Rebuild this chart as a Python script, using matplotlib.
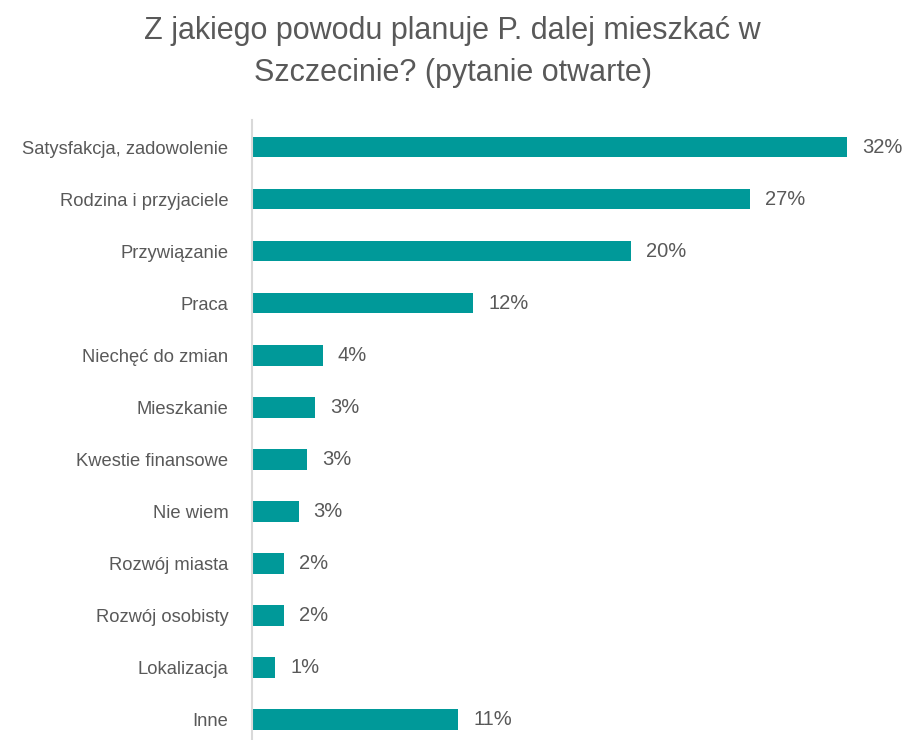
import matplotlib.pyplot as plt
from matplotlib import font_manager

# dane z wykresu
categories = ["Satysfakcja, zadowolenie", "Rodzina i przyjaciele", "Przywiązanie", "Praca",
              "Niechęć do zmian", "Mieszkanie", "Kwestie finansowe", "Nie wiem",
              "Rozwój miasta", "Rozwój osobisty", "Lokalizacja", "Inne"]
values = [32.0, 26.8, 20.4, 11.9, 3.8, 3.4, 2.95, 2.5, 1.7, 1.7, 1.25, 11.1]
value_labels = ["32%", "27%", "20%", "12%", "4%", "3%", "3%", "3%", "2%", "2%", "1%", "11%"]

installed = {f.name for f in font_manager.fontManager.ttflist}
fam = "Liberation Sans Narrow" if "Liberation Sans Narrow" in installed else "Liberation Sans"
narrow = fam == "Liberation Sans Narrow"
plt.rcParams['font.family'] = [fam, 'DejaVu Sans']

txt = "#595959"
bar_col = "#009999"

fig = plt.figure(figsize=(9.05, 7.4), dpi=100)
ax = fig.add_axes([252 / 905, 0, 0.70, 620 / 740])

y = list(range(len(categories)))
ax.barh(y, values, height=0.4, color=bar_col)
for yi, v, lab in zip(y, values, value_labels):
    ax.text(v + 0.8, yi, lab, va="center", ha="left", fontsize=15 if narrow else 14.5, color=txt)

ax.set_xlim(0, 0.70 * 905 / 18.6)
ax.set_ylim(11.4, -0.52)
ax.set_yticks(y)
ax.set_yticklabels(categories, fontsize=15 if narrow else 13.2, color=txt)
ax.tick_params(axis="y", length=0, pad=17)
ax.set_xticks([])
for s in ["top", "right", "bottom"]:
    ax.spines[s].set_visible(False)
ax.spines["left"].set_color("#d9d9d9")
ax.spines["left"].set_linewidth(1.5)

fig.text(0.5, 0.978, "Z jakiego powodu planuje P. dalej mieszkać w\nSzczecinie? (pytanie otwarte)",
         ha="center", va="top", fontsize=22, color=txt, linespacing=1.5)

fig.savefig("out.png", dpi=100)
